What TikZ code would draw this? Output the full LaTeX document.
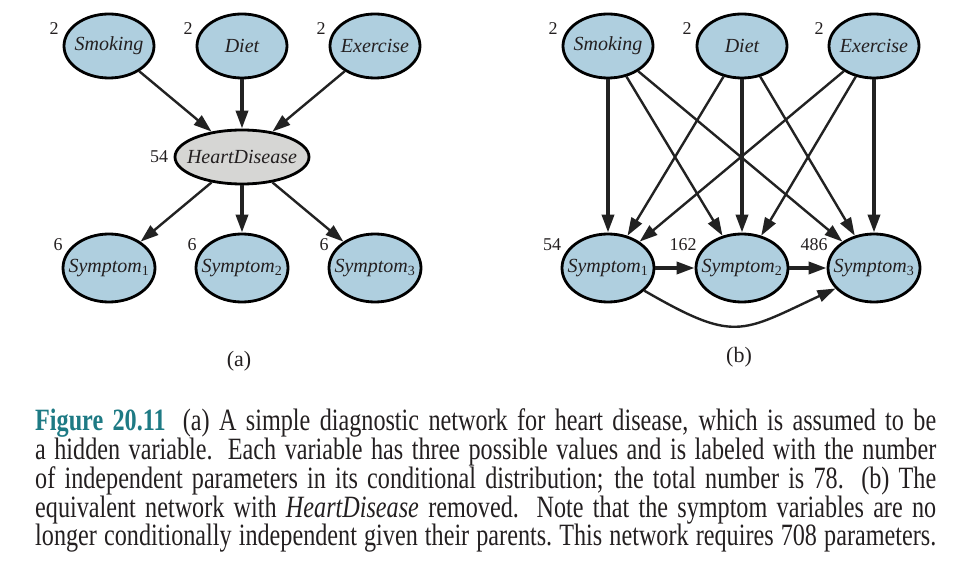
\documentclass[tikz,border=0pt]{standalone}
\usepackage{fontspec}
\setmainfont{Liberation Serif}
\newfontfamily\capfont{Liberation Serif}[FakeStretch=0.78]
\usetikzlibrary{shapes.geometric,arrows.meta}
\definecolor{nodeblue}{RGB}{175,207,223}
\definecolor{nodegray}{RGB}{214,214,212}
\definecolor{edgecol}{RGB}{34,34,34}
\definecolor{figteal}{RGB}{30,122,132}
\definecolor{textcol}{RGB}{35,31,32}
\begin{document}
\begin{tikzpicture}[x=1pt,y=-1pt,
  var/.style={ellipse,draw=black,line width=2.8pt,fill=nodeblue,inner sep=0pt,
    minimum width=90pt,minimum height=64pt},
  symp/.style={var,minimum width=92pt,minimum height=68pt},
  hidden/.style={var,fill=nodegray,minimum width=134pt,minimum height=54pt},
  lab/.style={inner sep=0pt,font=\fontsize{20}{22}\selectfont\itshape,text=textcol},
  num/.style={font=\fontsize{18}{20}\selectfont,text=textcol,inner sep=0pt},
  sub/.style={font=\fontsize{22}{24}\selectfont,text=textcol},
  edge/.style={draw=edgecol,line width=2.4pt,-{Triangle[length=18pt,width=12pt]}},
  tedge/.style={edge,line width=3.6pt},
  capline/.style={anchor=base west,inner sep=0pt,font=\capfont\fontsize{31}{32}\selectfont,text=textcol}]
\useasboundingbox (0,0) rectangle (967,561);
% ---- (a)
\node[var,label={[lab]center:Smoking}] (as) at (109,46) {};
\node[var,label={[lab]center:Diet}] (ad) at (242,46) {};
\node[var,label={[lab]center:Exercise}] (ae) at (375,46) {};
\node[hidden,label={[lab]center:HeartDisease}] (ah) at (242,157) {};
\node[symp,label={[lab]center:Symptom$_{\mathrm{1}}$}] (a1) at (109,268) {};
\node[symp,label={[lab]center:Symptom$_{\mathrm{2}}$}] (a2) at (242,268) {};
\node[symp,label={[lab]center:Symptom$_{\mathrm{3}}$}] (a3) at (375,268) {};
\node[num] (nas) at (54,29) {2};
\node[num] (nad) at (188,29) {2};
\node[num] (nae) at (321,29) {2};
\node[num] (nah) at (159,157) {54};
\node[num] (na1) at (58,245) {6};
\node[num] (na2) at (192,245) {6};
\node[num] (na3) at (324,245) {6};
\draw[edge] (as) -- (ah);
\draw[tedge] (ad) -- (ah);
\draw[edge] (ae) -- (ah);
\draw[edge] (ah) -- (a1);
\draw[tedge] (ah) -- (a2);
\draw[edge] (ah) -- (a3);
\node[sub] (la) at (239,361) {(a)};
% ---- (b)
\node[var,label={[lab]center:Smoking}] (bs) at (608,46) {};
\node[var,label={[lab]center:Diet}] (bd) at (742,46) {};
\node[var,label={[lab]center:Exercise}] (be) at (874,46) {};
\node[symp,label={[lab]center:Symptom$_{\mathrm{1}}$}] (b1) at (608,268) {};
\node[symp,label={[lab]center:Symptom$_{\mathrm{2}}$}] (b2) at (742,268) {};
\node[symp,label={[lab]center:Symptom$_{\mathrm{3}}$}] (b3) at (874,268) {};
\node[num] (nbs) at (553,29) {2};
\node[num] (nbd) at (687,29) {2};
\node[num] (nbe) at (819,29) {2};
\node[num] (nb1) at (552,245) {54};
\node[num] (nb2) at (683,245) {162};
\node[num] (nb3) at (814,245) {486};
\draw[tedge] (bs) -- (b1);
\draw[edge] (bs) -- (b2);
\draw[edge] (bs) -- (b3);
\draw[edge] (bd) -- (b1);
\draw[tedge] (bd) -- (b2);
\draw[edge] (bd) -- (b3);
\draw[edge] (be) -- (b1);
\draw[edge] (be) -- (b2);
\draw[tedge] (be) -- (b3);
\draw[tedge] (b1) -- (b2);
\draw[tedge] (b2) -- (b3);
\draw[edge] (b1.-32) to[out=-30,in=205,looseness=1.4] (b3.-152);
\node[sub] (lb) at (739,357) {(b)};
% ---- caption
\node[capline] (c1) at (35,430) {\makebox[901pt][s]{\textcolor{figteal}{\bfseries Figure 20.11}\hspace{0.25em} (a) A simple diagnostic network for heart disease, which is assumed to be}};
\node[capline] (c2) at (35,459) {\makebox[901pt][s]{a hidden variable.  Each variable has three possible values and is labeled with the number}};
\node[capline] (c3) at (35,488) {\makebox[901pt][s]{of independent parameters in its conditional distribution; the total number is 78.  (b) The}};
\node[capline] (c4) at (35,517) {\makebox[901pt][s]{equivalent network with \textit{HeartDisease} removed.  Note that the symptom variables are no}};
\node[capline] (c5) at (35,545) {\makebox[901pt][s]{longer conditionally independent given their parents.\ This network requires 708 parameters.}};
\end{tikzpicture}
\end{document}
